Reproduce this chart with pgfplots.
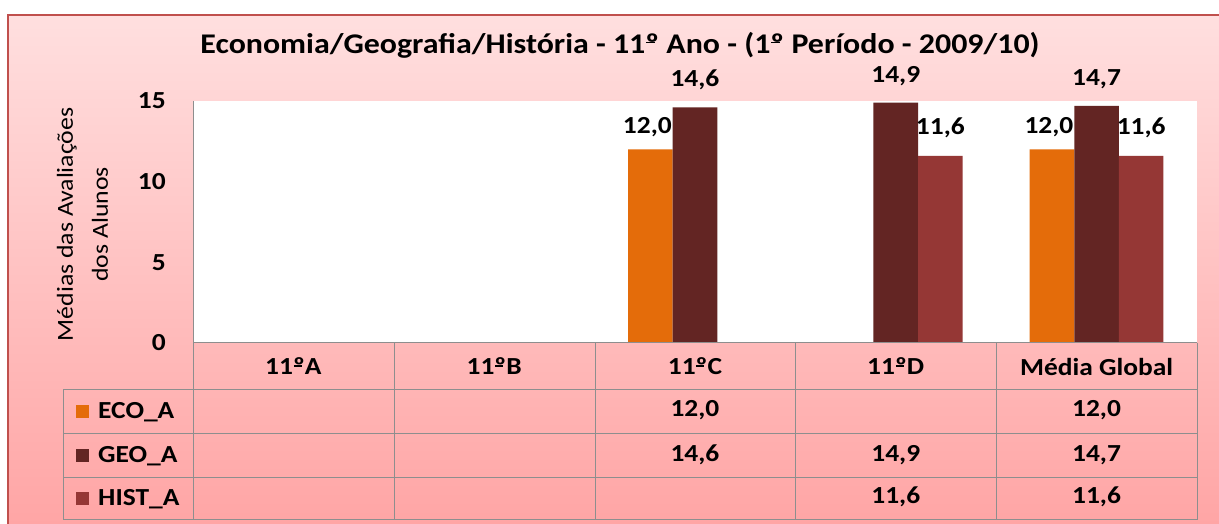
\documentclass[border=0pt]{standalone}
\usepackage{pgfplots}
\pgfplotsset{compat=1.18}
\usepackage{fontspec}
\setmainfont{Carlito}[FakeStretch=1.12]
\definecolor{eco}{HTML}{E46C0A}
\definecolor{geo}{HTML}{632523}
\definecolor{hist}{HTML}{953735}
\definecolor{gridg}{HTML}{8E8E8E}
\definecolor{framec}{HTML}{C0504D}
\definecolor{bgtop}{HTML}{FFDFDF}
\definecolor{bgbot}{HTML}{FFA4A4}
\newcommand{\tfont}{\fontsize{24.5}{28}\selectfont\bfseries}
\newcommand{\ordm}{\makebox[0pt][l]{\hspace{0.03em}\raisebox{0.34em}{\rule{0.32em}{0.055em}}}º}
\begin{document}
\begin{tikzpicture}[x=1pt,y=1pt]
\useasboundingbox (0,0) rectangle (1219,524);
\fill[white] (0,0) rectangle (1219,524);
\shade[top color=bgtop, bottom color=bgbot] (8,-10) rectangle (1230,509);
\draw[framec, line width=2pt] (8,-10) -- (8,509) -- (1230,509);
\node[font=\fontsize{28.5}{32}\selectfont\bfseries] at (620,479) {Economia/Geografia/História - 11\ordm{} Ano - (1\ordm{} Período - 2009/10)};
\begin{axis}[
  at={(193pt,181pt)}, anchor=south west,
  width=1004pt, height=242pt, scale only axis,
  xmin=-0.5, xmax=4.5, ymin=0, ymax=15,
  axis background/.style={fill=white},
  axis line style={draw=none},
  clip=false,
  ytick={0,5,10,15},
  xtick={0,1,2,3,4},
  xticklabels={11\ordm{}A,11\ordm{}B,11\ordm{}C,11\ordm{}D,Média Global},
  major tick length=0pt,
  /pgf/number format/assume math mode=true,
  /pgf/number format/.cd, fixed, fixed zerofill, precision=1, use comma,
  /pgfplots/.cd,
  yticklabel={\pgfmathprintnumber[fixed, precision=0, fixed zerofill=false]{\tick}},
  yticklabel style={font=\tfont, anchor=east, inner sep=0pt, xshift=-27pt},
  xticklabel style={font=\tfont, anchor=center, inner sep=0pt, yshift=-23.5pt},
  ylabel={Médias das Avaliações\\dos Alunos},
  every axis y label/.style={at={(axis description cs:-0.110,0.49)}, anchor=center, rotate=90,
     font=\fontsize{23}{35}\selectfont, align=center},
]
\addplot[ybar, bar width=44.6pt, bar shift=-44.6pt, fill=eco, draw=none,
  nodes near coords, nodes near coords style={font=\tfont, text=black, anchor=south, inner sep=0pt, yshift=12pt, xshift=-47.6pt}]
  coordinates {(2,12.0) (4,12.0)};
\addplot[ybar, bar width=44.6pt, bar shift=0pt, fill=geo, draw=none,
  nodes near coords, nodes near coords style={font=\tfont, text=black, anchor=south, inner sep=0pt, yshift=17pt}]
  coordinates {(2,14.6) (3,14.9) (4,14.7)};
\addplot[ybar, bar width=44.6pt, bar shift=44.6pt, fill=hist, draw=none,
  nodes near coords, nodes near coords style={font=\tfont, text=black, anchor=south, inner sep=0pt, yshift=18pt, xshift=44.6pt}]
  coordinates {(3,11.6) (4,11.6)};
% data table values
\addplot[only marks, mark=none, point meta=explicit,
  nodes near coords, nodes near coords align=center,
  nodes near coords style={font=\tfont, text=black, anchor=center, inner sep=0pt}]
  coordinates {(2,-4.15)[12.0] (4,-4.15)[12.0]
               (2,-6.94)[14.6] (3,-6.94)[14.9] (4,-6.94)[14.7]
               (3,-9.55)[11.6] (4,-9.55)[11.6]};
\end{axis}
% table grid
\begin{scope}[gridg, line width=1pt]
\draw (193,423) -- (193,181);
\draw (193,181) -- (1197,181);
\foreach \yy in {134,90,46,4} {\draw (63,\yy) -- (1197,\yy);}
\foreach \xx in {193,394,595,795,996,1197} {\draw (\xx,181) -- (\xx,4);}
\draw (63,134) -- (63,4);
\end{scope}
% legend keys in table
\fill[eco] (75.5,105.5) rectangle (88.5,118.5);
\fill[geo] (75.5,61.5) rectangle (88.5,74.5);
\fill[hist] (75.5,18.5) rectangle (88.5,31.5);
\node[font=\tfont, anchor=west, inner sep=0pt] at (98,112) {ECO\_A};
\node[font=\tfont, anchor=west, inner sep=0pt] at (98,68) {GEO\_A};
\node[font=\tfont, anchor=west, inner sep=0pt] at (98,25) {HIST\_A};
\end{tikzpicture}
\end{document}
